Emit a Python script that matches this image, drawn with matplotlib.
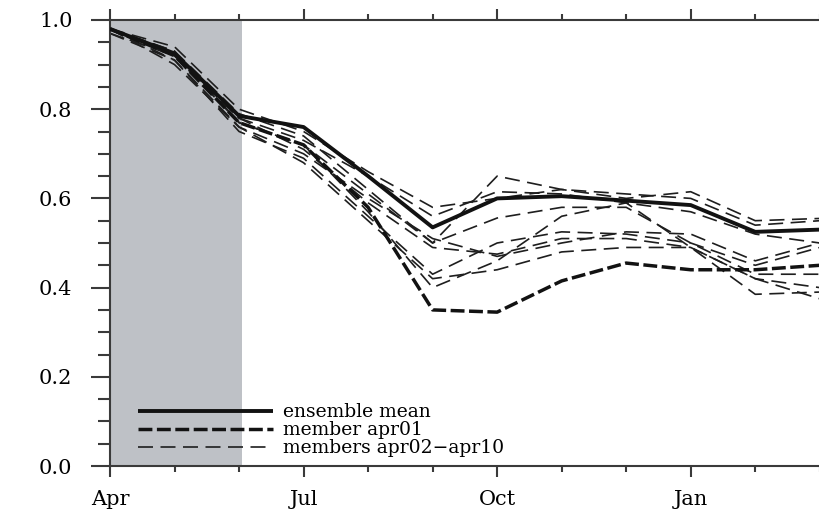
import matplotlib
matplotlib.use("Agg")
import matplotlib.pyplot as plt
from matplotlib.ticker import FixedLocator, MultipleLocator, FormatStrFormatter

# Forecast lead month index: 0 = Apr ... 11 = Mar
months = list(range(12))
tick_months = [0, 3, 6, 9]
tick_labels = ["Apr", "Jul", "Oct", "Jan"]
spinup_end = 2.05

ensemble_mean = [0.98, 0.925, 0.785, 0.76, 0.65, 0.535, 0.60, 0.605, 0.595, 0.585, 0.525, 0.53]
member_apr01 = [0.98, 0.92, 0.77, 0.72, 0.58, 0.35, 0.345, 0.415, 0.455, 0.44, 0.44, 0.45]

apr02 = [0.98, 0.93, 0.79, 0.74, 0.62, 0.50, 0.65, 0.62, 0.61, 0.60, 0.54, 0.55]
apr03 = [0.98, 0.94, 0.80, 0.75, 0.66, 0.58, 0.60, 0.62, 0.60, 0.615, 0.55, 0.555]
apr04 = [0.97, 0.92, 0.78, 0.73, 0.65, 0.56, 0.615, 0.61, 0.59, 0.57, 0.52, 0.50]
apr05 = [0.98, 0.91, 0.76, 0.70, 0.60, 0.51, 0.47, 0.50, 0.525, 0.52, 0.46, 0.50]
apr06 = [0.98, 0.93, 0.77, 0.72, 0.61, 0.50, 0.556, 0.58, 0.58, 0.50, 0.43, 0.43]
apr07 = [0.98, 0.92, 0.78, 0.71, 0.59, 0.49, 0.475, 0.51, 0.51, 0.49, 0.42, 0.40]
apr08 = [0.97, 0.91, 0.75, 0.69, 0.56, 0.43, 0.50, 0.525, 0.52, 0.50, 0.45, 0.49]
apr09 = [0.98, 0.90, 0.76, 0.68, 0.55, 0.42, 0.44, 0.48, 0.49, 0.49, 0.42, 0.375]
apr10 = [0.98, 0.92, 0.77, 0.72, 0.57, 0.40, 0.46, 0.56, 0.59, 0.49, 0.385, 0.39]
other_members = [apr02, apr03, apr04, apr05, apr06, apr07, apr08, apr09, apr10]

plt.rcParams["font.family"] = ["DejaVu Serif"]

fig = plt.figure(figsize=(8.2, 5.15), dpi=100)
ax = fig.add_axes([110 / 820, 49 / 515, 713 / 820, 446 / 515])

ax.axvspan(0, spinup_end, color="#bec1c6", lw=0, zorder=0)

ink = "#121212"
for i, m in enumerate(other_members):
    ax.plot(months, m, color="#1e1e1e", lw=1.2, dashes=(9, 4.5),
            label="members apr02\u2212apr10" if i == 0 else None, zorder=2)
ax.plot(months, member_apr01, color=ink, lw=2.5, dashes=(4.0, 1.3),
        label="member apr01", zorder=3)
ax.plot(months, ensemble_mean, color=ink, lw=2.8, solid_capstyle="butt",
        label="ensemble mean", zorder=4)

ax.set_xlim(0, 11.05)
ax.set_ylim(0, 1.0)

ax.xaxis.set_major_locator(FixedLocator(tick_months))
ax.set_xticklabels(tick_labels)
ax.xaxis.set_minor_locator(MultipleLocator(1))
ax.yaxis.set_major_locator(MultipleLocator(0.2))
ax.yaxis.set_minor_locator(MultipleLocator(0.05))
ax.yaxis.set_major_formatter(FormatStrFormatter("%.1f"))

spine_c = "#3a3a3a"
for side in ("left", "top", "bottom"):
    ax.spines[side].set_color(spine_c)
    ax.spines[side].set_linewidth(1.5)
ax.spines["right"].set_visible(False)

ax.tick_params(axis="x", which="major", direction="out", length=8, width=1.5,
               color=spine_c, top=True, labeltop=False, labelsize=15, pad=9)
ax.tick_params(axis="x", which="minor", direction="out", length=4.5, width=1.5,
               color=spine_c, top=True)
ax.tick_params(axis="y", which="major", direction="out", length=14, width=1.5,
               color=spine_c, right=False, labelsize=15, pad=13)
ax.tick_params(axis="y", which="minor", direction="out", length=8.5, width=1.5,
               color=spine_c, right=False)

handles, labels = ax.get_legend_handles_labels()
order = [2, 1, 0]
leg = ax.legend([handles[i] for i in order], [labels[i] for i in order],
                loc="lower left", bbox_to_anchor=(0.039, 0.02), frameon=False,
                fontsize=13.5, handlelength=7.2, handletextpad=0.55,
                labelspacing=0.0, borderpad=0, borderaxespad=0)

fig.savefig("out.png", dpi=100)
